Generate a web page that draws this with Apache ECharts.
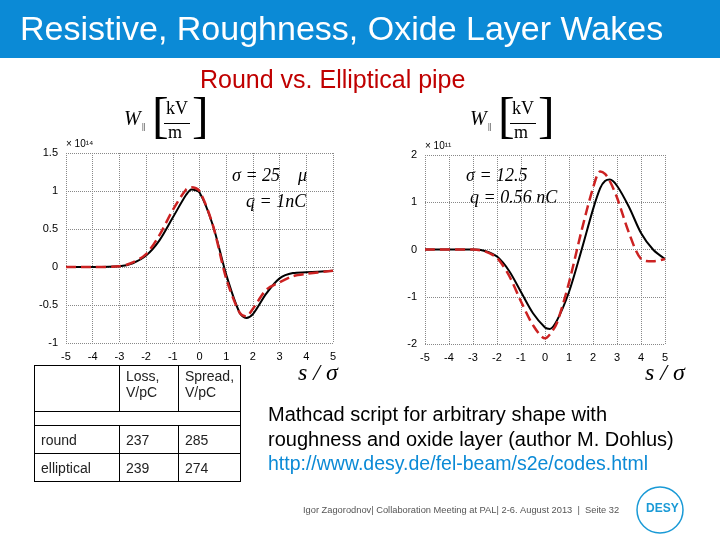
<!DOCTYPE html>
<html><head><meta charset="utf-8">
<script src="https://cdn.jsdelivr.net/npm/echarts@6/dist/echarts.min.js"></script>
<style>
body{margin:0;width:720px;height:540px;overflow:hidden;background:#fff;font-family:"Liberation Sans",Arial,sans-serif}
#main{position:absolute;left:0;top:0;width:720px;height:540px}
table{position:absolute;left:34px;top:365px;border-collapse:collapse;font-size:14px;color:#222}
td{border:1px solid #000;padding:2px 6px;vertical-align:middle}
</style></head><body>
<div id="main"></div>
<table>
<tr style="height:46px"><td style="width:72px"></td><td style="width:46px;vertical-align:top">Loss,<br>V/pC</td><td style="width:44px;vertical-align:top">Spread,<br>V/pC</td></tr>
<tr style="height:14px"><td colspan="3" style="border:none;border-left:1px solid #000;border-right:1px solid #000"></td></tr>
<tr style="height:28px"><td>round</td><td>237</td><td>285</td></tr>
<tr style="height:28px"><td>elliptical</td><td>239</td><td>274</td></tr>
</table>
<script>
// s/sigma positions and wake values (units of 1e14 / 1e11)
const roundX = [-5,-4,-3,-2.5,-2,-1.5,-1,-0.5,-0.3,0,0.5,1,1.5,1.75,2,2.5,3,3.5,4,5];
const roundBlack = [0,0,0.01,0.05,0.15,0.35,0.65,0.95,1.02,0.98,0.55,-0.1,-0.6,-0.67,-0.62,-0.35,-0.15,-0.08,-0.07,-0.05];
const roundRed = [0,0,0.01,0.06,0.17,0.42,0.75,1.02,1.05,1.0,0.55,-0.15,-0.6,-0.65,-0.55,-0.3,-0.2,-0.12,-0.09,-0.05];
const ellX = [-5,-3,-2.5,-2,-1.5,-1,-0.5,0,0.2,0.5,1,1.5,2,2.3,2.5,2.7,3,3.5,4,4.5,5];
const ellBlack = [0,0,-0.03,-0.15,-0.45,-0.9,-1.35,-1.65,-1.68,-1.5,-0.9,-0.05,0.85,1.3,1.45,1.48,1.35,0.9,0.35,0,-0.2];
const ellRed = [0,0,-0.04,-0.18,-0.55,-1.1,-1.6,-1.88,-1.8,-1.55,-0.7,0.35,1.3,1.65,1.6,1.45,1.1,0.35,-0.2,-0.25,-0.2];

const zip = (xs, ys) => xs.map((x, i) => [x, ys[i]]);
const chart = echarts.init(document.getElementById('main'));
const lbl = {color:'#000', fontSize:11, fontFamily:'Liberation Sans'};
const grid = {show:true, lineStyle:{color:'#888', type:'dotted'}};
function xAx(i){return {type:'value', gridIndex:i, min:-5, max:5, interval:1, axisLine:{show:false}, axisTick:{show:false}, splitLine:grid, axisLabel:lbl};}
function yAx(i,min,max,iv){return {type:'value', gridIndex:i, min, max, interval:iv, axisLine:{show:false}, axisTick:{show:false}, splitLine:grid, axisLabel:lbl};}
function ser(i, data, red){return {type:'line', xAxisIndex:i, yAxisIndex:i, data, smooth:0.3, showSymbol:false,
  lineStyle: red ? {color:'#cc2222', width:2.5, type:'dashed'} : {color:'#000', width:2}};}
function txt(x,y,t,o){return {type:'text', left:x, top:y, style:Object.assign({text:t, fill:'#000', font:'16px "Liberation Serif"'}, o||{})};}
function wLabel(x,y){return [
  txt(x,y+12,'W',{font:'italic 20px "Liberation Serif"'}),
  txt(x+18,y+24,'||',{font:'9px "Liberation Serif"'}),
  txt(x+28,y-4,'[',{font:'50px "Liberation Serif"'}),
  txt(x+42,y+2,'kV',{font:'18px "Liberation Serif"'}),
  {type:'rect', shape:{x:x+40,y:y+25,width:26,height:1}, style:{fill:'#000'}},
  txt(x+44,y+26,'m',{font:'18px "Liberation Serif"'}),
  txt(x+68,y-4,']',{font:'50px "Liberation Serif"'})
];}
chart.setOption({
  animation:false,
  grid:[{left:66, top:153, width:267, height:190},{left:425, top:155, width:240, height:189}],
  xAxis:[xAx(0), xAx(1)],
  yAxis:[yAx(0,-1,1.5,0.5), yAx(1,-2,2,1)],
  series:[ser(0, zip(roundX, roundBlack)), ser(0, zip(roundX, roundRed), true),
          ser(1, zip(ellX, ellBlack)), ser(1, zip(ellX, ellRed), true)],
  graphic:[
    {type:'rect', shape:{x:0,y:0,width:720,height:58}, style:{fill:'#0B8AD6'}},
    txt(20,14,'Resistive, Roughness, Oxide Layer Wakes',{fill:'#fff', font:'34px "Liberation Sans"'}),
    txt(200,69,'Round vs. Elliptical pipe',{fill:'#c00000', font:'25px "Liberation Sans"'}),
    txt(66,139,'× 10¹⁴',{font:'10px "Liberation Sans"'}),
    txt(425,141,'× 10¹¹',{font:'10px "Liberation Sans"'}),
    ...wLabel(124,98), ...wLabel(470,98),
    txt(232,167,'σ = 25    μ',{font:'italic 18px "Liberation Serif"'}),
    txt(246,193,'q = 1nC',{font:'italic 18px "Liberation Serif"'}),
    txt(466,167,'σ = 12.5',{font:'italic 18px "Liberation Serif"'}),
    txt(470,189,'q = 0.56 nC',{font:'italic 18px "Liberation Serif"'}),
    txt(298,362,'s / σ',{font:'italic 24px "Liberation Serif"'}),
    txt(645,362,'s / σ',{font:'italic 24px "Liberation Serif"'}),
    txt(268,405,'Mathcad script for arbitrary shape with',{font:'20px "Liberation Sans"'}),
    txt(268,430,'roughness and oxide layer (author M. Dohlus)',{font:'20px "Liberation Sans"'}),
    txt(268,455,'http://www.desy.de/fel-beam/s2e/codes.html',{fill:'#0B8AD6', font:'19.5px "Liberation Sans"'}),
    txt(303,506,'Igor Zagorodnov| Collaboration Meeting at PAL| 2-6. August 2013  |  Seite 32',{fill:'#555', font:'9.3px "Liberation Sans"'}),
    {type:'circle', shape:{cx:660,cy:510,r:23}, style:{fill:'none', stroke:'#1a9ad6', lineWidth:1.5}},
    txt(646,503,'DESY',{fill:'#1a9ad6', font:'bold 12px "Liberation Sans"'})
  ]
});
</script>
</body></html>
